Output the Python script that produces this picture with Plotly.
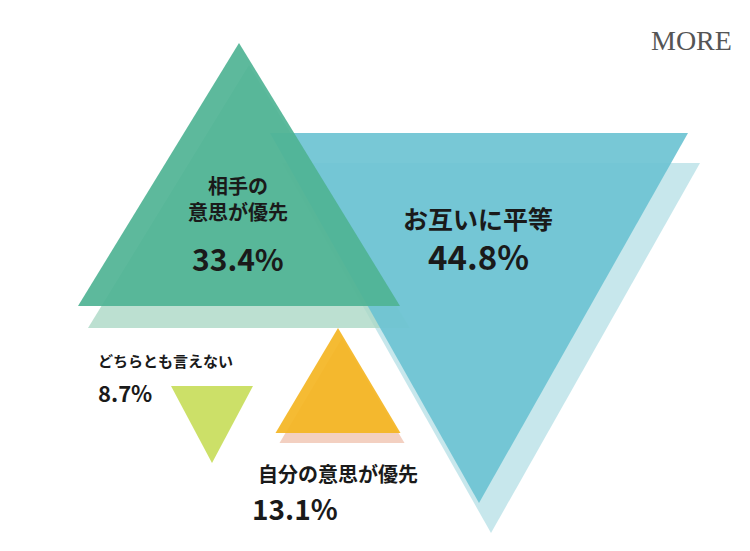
import plotly.graph_objects as go

labels = ["お互いに平等", "相手の<br>意思が優先", "自分の意思が優先", "どちらとも言えない"]
shares = [44.8, 33.4, 13.1, 8.7]

# layout: centre x, base y, width, height, direction (+1 up / -1 down), colour, shadow colour, shadow offset
layout = [
    dict(cx=471, by=125, w=418, h=370, d=-1, c="#6cc3d2", s="#b9e1e7", off=(12, 30)),
    dict(cx=231, by=298, w=322, h=263, d=1, c="#4fb394", s="#abd8c6", off=(10, 22)),
    dict(cx=330, by=425, w=125, h=105, d=1, c="#f4b522", s="#f0c4b2", off=(4, 10)),
    dict(cx=204, by=378, w=82, h=77, d=-1, c="#c8dd5b", s=None, off=(0, 0)),
]


def tri(cx, by, w, h, d):
    ty = by - d * h
    return [cx - w / 2, cx + w / 2, cx, cx - w / 2], [by, by, ty, by]


fig = go.Figure()
for g in layout:
    if g["s"]:
        xs, ys = tri(g["cx"] + g["off"][0], g["by"] + g["off"][1], g["w"], g["h"], g["d"])
        fig.add_trace(go.Scatter(x=xs, y=ys, fill="toself", fillcolor=g["s"], opacity=0.8,
                                 line=dict(width=0), mode="lines", hoverinfo="skip"))
for g in layout:
    xs, ys = tri(g["cx"], g["by"], g["w"], g["h"], g["d"])
    fig.add_trace(go.Scatter(x=xs, y=ys, fill="toself", fillcolor=g["c"], opacity=0.92,
                             line=dict(width=0), mode="lines", hoverinfo="skip"))

font = "Noto Sans CJK JP"
ink = "#1a1a1a"
text_pos = [
    dict(x=470, y=210, ly=248, ls=25, vs=33, anchor="center"),
    dict(x=230, y=190, ly=250, ls=20, vs=30, anchor="center"),
    dict(x=330, y=465, ly=500, ls=20, vs=28, anchor="center"),
    dict(x=88, y=352, ly=384, ls=15, vs=22, anchor="left"),
]
for lab, v, t in zip(labels, shares, text_pos):
    fig.add_annotation(x=t["x"], y=t["y"], text=f"<b>{lab}</b>", showarrow=False,
                       xanchor=t["anchor"], font=dict(family=font, size=t["ls"], color=ink))
    vx = t["x"] if lab != "自分の意思が優先" else 287
    fig.add_annotation(x=vx, y=t["ly"], text=f"<b>{v}%</b>", showarrow=False,
                       xanchor=t["anchor"], font=dict(family=font, size=t["vs"], color=ink))

fig.add_annotation(x=683, y=32, text="MORE", showarrow=False,
                   font=dict(family="Liberation Serif", size=28, color="#555555"))

fig.update_layout(width=750, height=551, margin=dict(l=0, r=0, t=0, b=0),
                  showlegend=False, paper_bgcolor="white", plot_bgcolor="white")
fig.update_xaxes(range=[0, 750], visible=False)
fig.update_yaxes(range=[551, 0], visible=False)
fig.write_html("out.html")
